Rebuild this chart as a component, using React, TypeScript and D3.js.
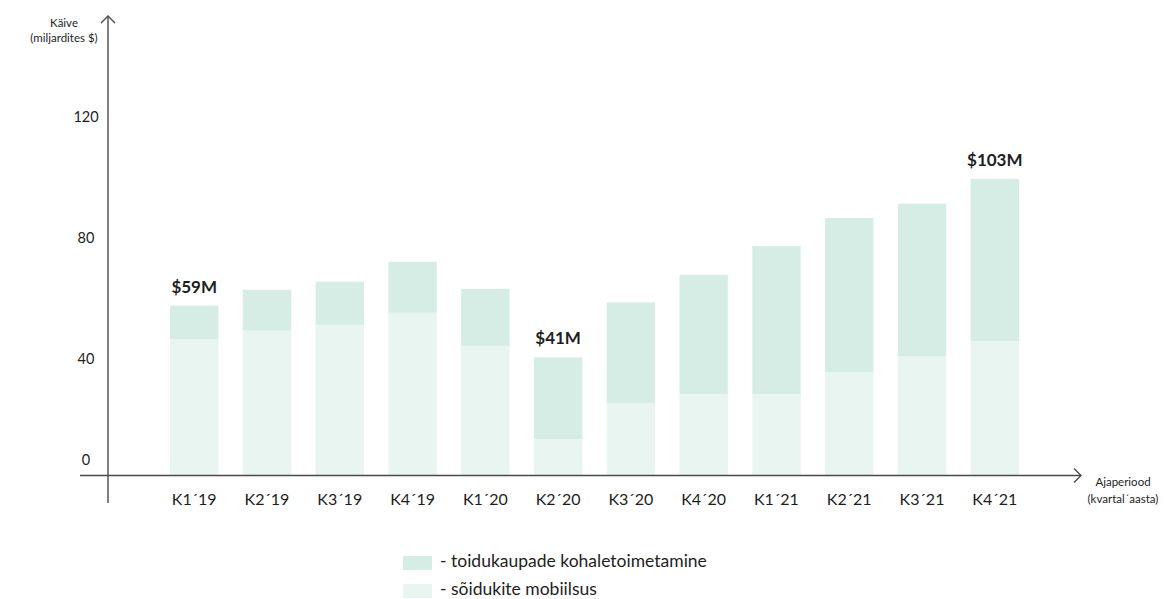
import React from "react";
import * as d3 from "d3";

// Quarterly revenue (billions $), split by segment
const quarters = ["K1´19", "K2´19", "K3´19", "K4´19", "K1´20", "K2´20", "K3´20", "K4´20", "K1´21", "K2´21", "K3´21", "K4´21"];
const mobility = [47.4, 50.3, 52.3, 56.5, 45.0, 12.7, 25.2, 28.3, 28.3, 35.9, 41.3, 46.7];
const delivery = [11.6, 14.2, 15.0, 17.7, 19.8, 28.3, 34.9, 41.4, 51.4, 53.5, 53.1, 56.3];
const yTicks = [0, 40, 80, 120];
const callouts = [
  { index: 0, text: "$59M" },
  { index: 5, text: "$41M" },
  { index: 11, text: "$103M" },
];
const legendItems = ["- toidukaupade kohaletoimetamine", "- sõidukite mobiilsus"];

const W = 1176;
const H = 599;
const FONT = "Lato, 'Open Sans', sans-serif";
const C_DELIVERY = "#d6ede5";
const C_MOBILITY = "#e9f5f1";
const AXIS = "#4a4a4a";
const TEXT = "#1e1e1e";

export default function App() {
  const axisX = 108;
  const baseY = 475.5;

  const x = d3.scaleBand<string>().domain(quarters).range([158, 1031]).paddingInner(0.335).paddingOuter(0.165);
  const y = d3.scaleLinear().domain([0, 100]).range([baseY, baseY - 288]);
  // the printed value axis is spaced a little wider than the bars
  const yAxis = d3.scaleLinear().domain([40, 120]).range([360, 118]);

  const rows = quarters.map((q, i) => ({ q, mobility: mobility[i], delivery: delivery[i] }));
  const stack = d3.stack<any>().keys(["mobility", "delivery"])(rows);
  const colors: Record<string, string> = { mobility: C_MOBILITY, delivery: C_DELIVERY };

  return (
    <svg width={W} height={H} style={{ position: "absolute", left: 0, top: 0, background: "#fff" }} fontFamily={FONT}>
      {/* bars */}
      {stack.map((layer) => (
        <g key={layer.key} fill={colors[layer.key]}>
          {layer.map((d, i) => (
            <rect
              key={i}
              x={x(quarters[i])}
              width={x.bandwidth()}
              y={y(d[1])}
              height={y(d[0]) - y(d[1])}
            />
          ))}
        </g>
      ))}

      {/* value callouts */}
      {callouts.map((c) => {
        const total = mobility[c.index] + delivery[c.index];
        return (
          <text
            key={c.index}
            x={(x(quarters[c.index]) as number) + x.bandwidth() / 2}
            y={y(total) - 13}
            textAnchor="middle"
            fontSize={17}
            fontWeight={700}
            fill={TEXT}
          >
            {c.text}
          </text>
        );
      })}

      {/* y axis with arrow */}
      <line x1={axisX} x2={axisX} y1={16} y2={503} stroke={AXIS} strokeWidth={1.4} />
      <polyline points={`${axisX - 7},23 ${axisX},16 ${axisX + 7},23`} fill="none" stroke={AXIS} strokeWidth={1.4} />
      {/* x axis with arrow */}
      <line x1={80} x2={1081} y1={baseY} y2={baseY} stroke={AXIS} strokeWidth={1.4} />
      <polyline points={`1074,${baseY - 7} 1081,${baseY} 1074,${baseY + 7}`} fill="none" stroke={AXIS} strokeWidth={1.4} />

      {/* y tick labels */}
      {yTicks.map((t) => (
        <text
          key={t}
          x={86}
          y={t === 0 ? baseY - 14 : yAxis(t)}
          textAnchor="middle"
          dominantBaseline="middle"
          fontSize={14.5}
          fill={TEXT}
        >
          {t}
        </text>
      ))}

      {/* x tick labels */}
      {quarters.map((q) => (
        <text
          key={q}
          x={(x(q) as number) + x.bandwidth() / 2}
          y={501}
          textAnchor="middle"
          dominantBaseline="middle"
          fontSize={16}
          fill={TEXT}
        >
          {q}
        </text>
      ))}

      {/* axis titles */}
      <text x={64} y={24} textAnchor="middle" dominantBaseline="middle" fontSize={11.5} fill={TEXT}>Käive</text>
      <text x={64} y={39} textAnchor="middle" dominantBaseline="middle" fontSize={11.5} fill={TEXT}>(miljardites $)</text>
      <text x={1123} y={483} textAnchor="middle" dominantBaseline="middle" fontSize={11.5} fill={TEXT}>Ajaperiood</text>
      <text x={1123} y={500} textAnchor="middle" dominantBaseline="middle" fontSize={11.5} fill={TEXT}>(kvartal´aasta)</text>

      {/* legend */}
      {legendItems.map((label, i) => (
        <g key={label} transform={`translate(403, ${556 + i * 28})`}>
          <rect width={29} height={14} fill={i === 0 ? C_DELIVERY : C_MOBILITY} />
          <text x={37} y={7} dominantBaseline="middle" fontSize={17.5} fill={TEXT}>{label}</text>
        </g>
      ))}
    </svg>
  );
}
